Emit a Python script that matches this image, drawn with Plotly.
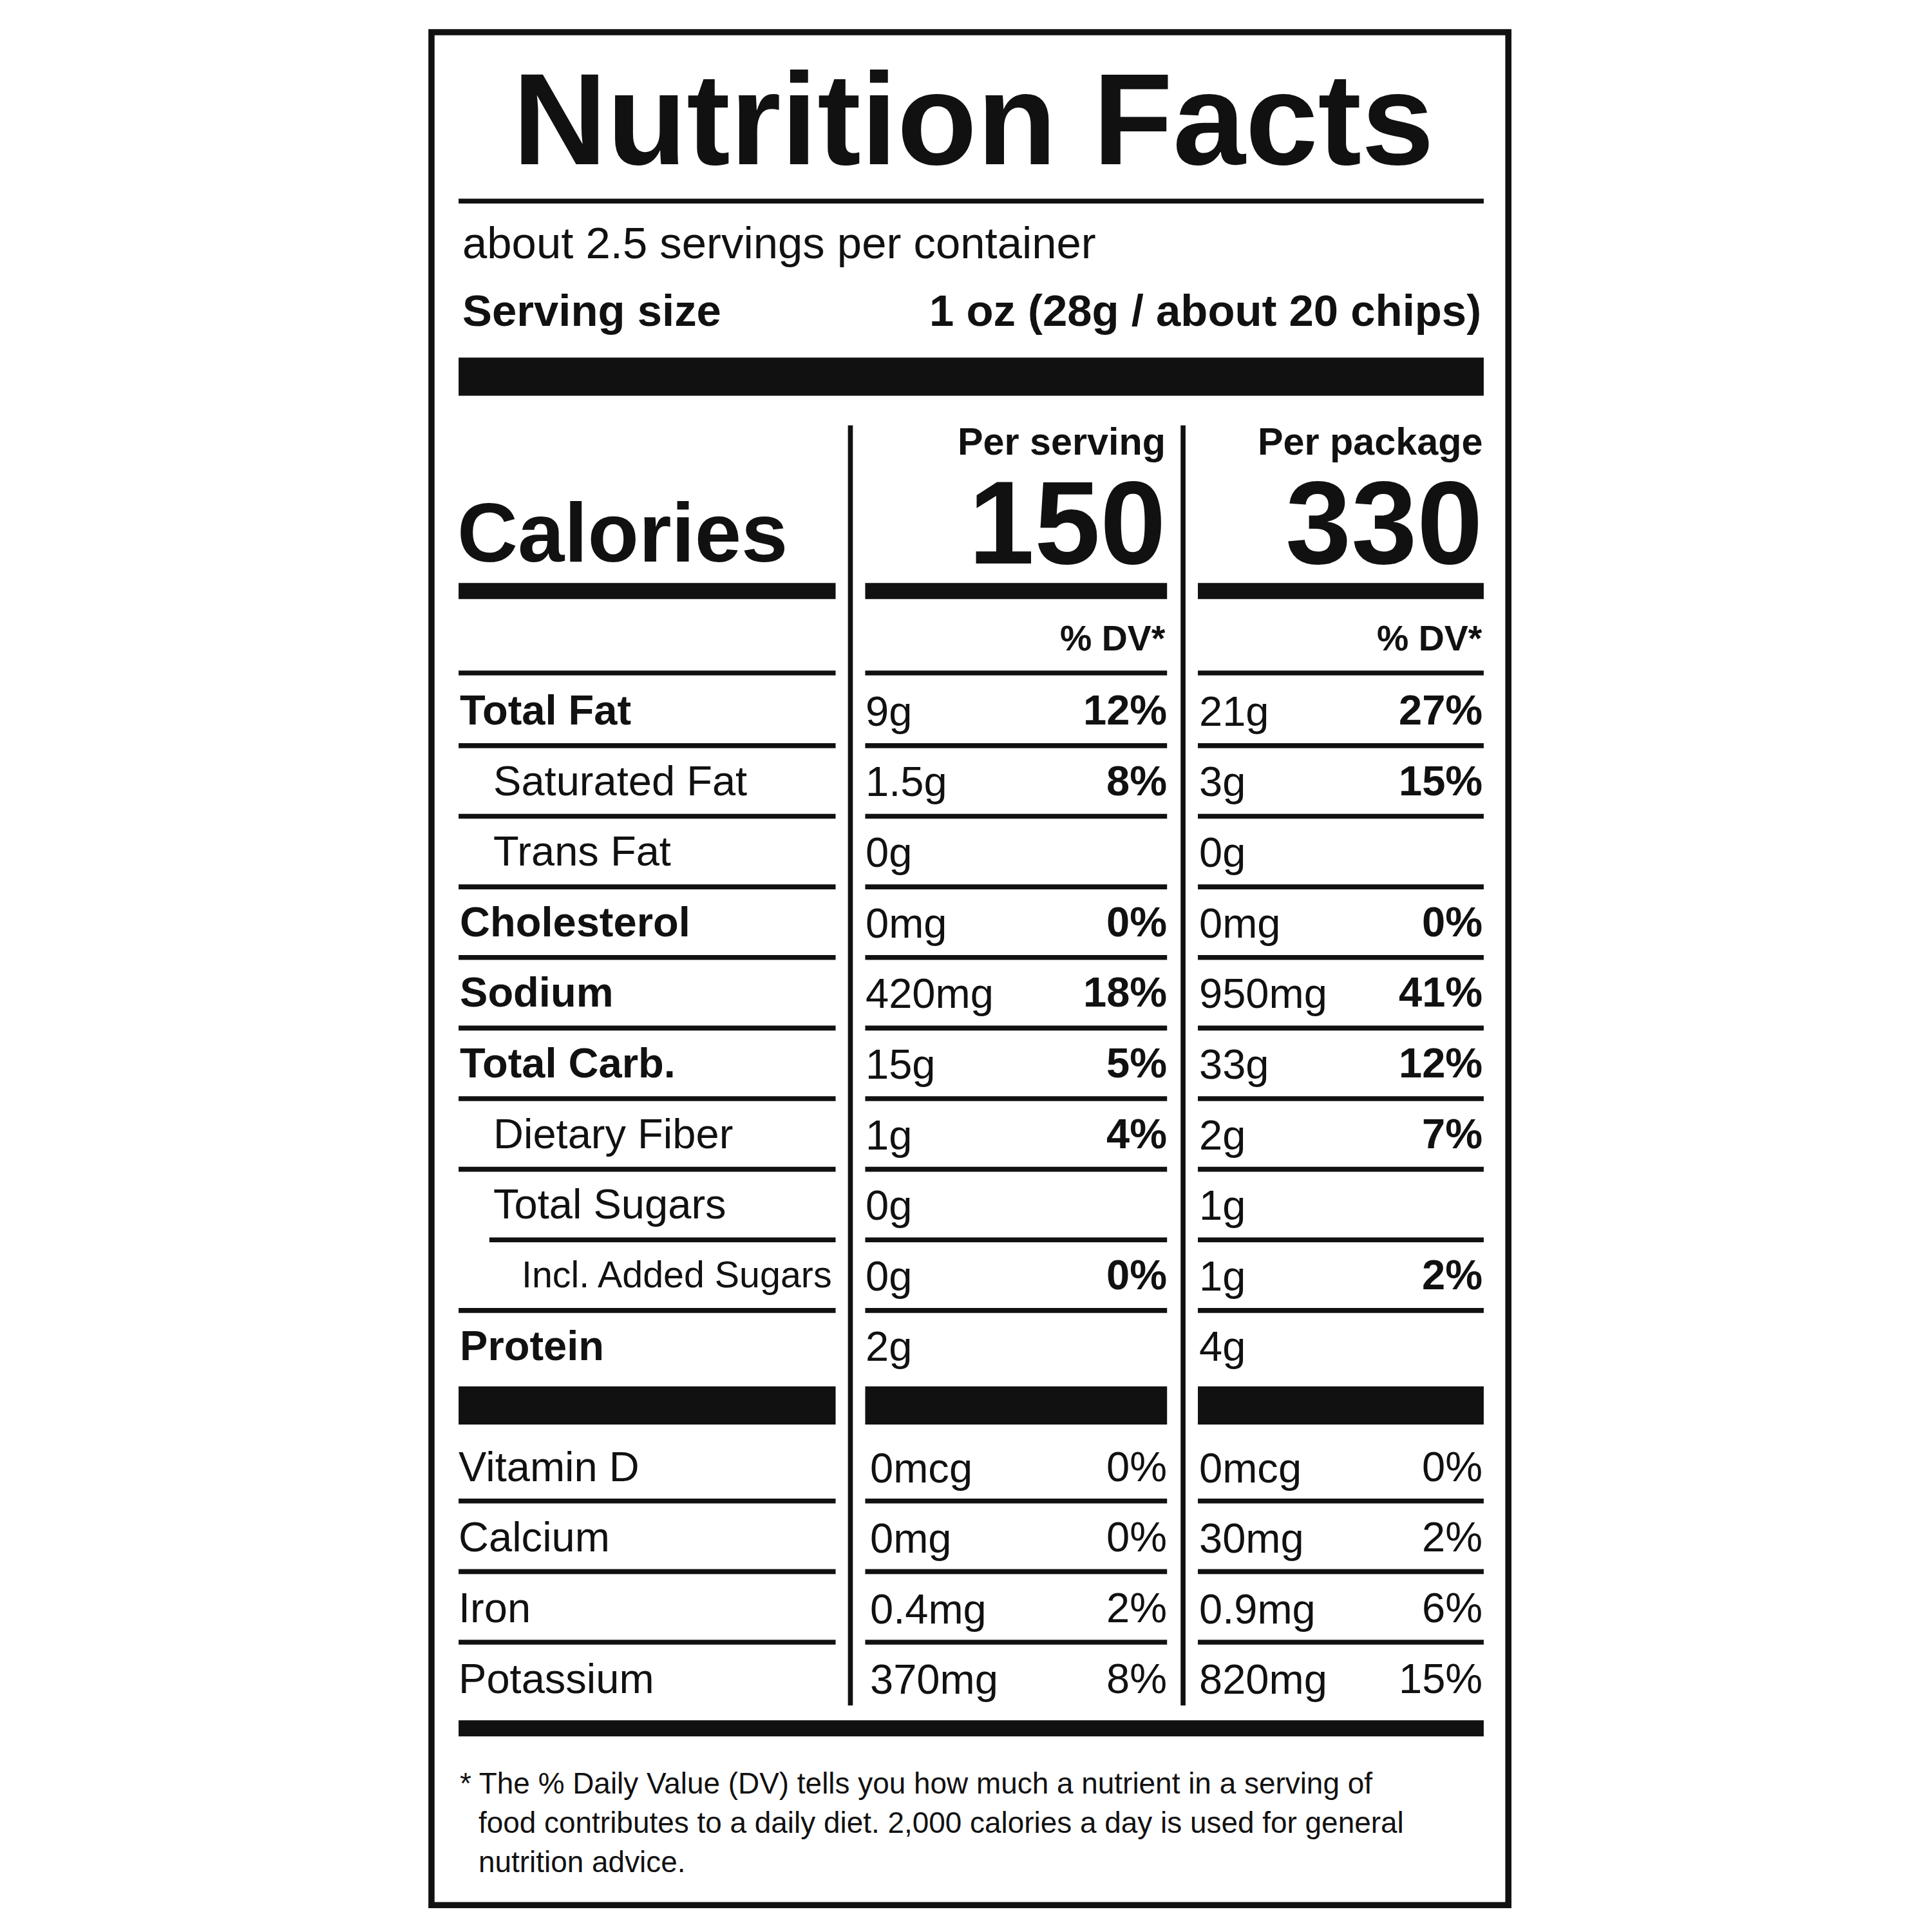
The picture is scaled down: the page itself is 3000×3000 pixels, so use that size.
import plotly.graph_objects as go

# label data
nutrients = ["Total Fat", "Saturated Fat", "Trans Fat", "Cholesterol", "Sodium",
             "Total Carb.", "Dietary Fiber", "Total Sugars", "Incl. Added Sugars", "Protein"]
indent = [0, 1, 1, 0, 0, 0, 1, 1, 2, 0]
serving_amt = ["9g", "1.5g", "0g", "0mg", "420mg", "15g", "1g", "0g", "0g", "2g"]
serving_dv = ["12%", "8%", "", "0%", "18%", "5%", "4%", "", "0%", ""]
package_amt = ["21g", "3g", "0g", "0mg", "950mg", "33g", "2g", "1g", "1g", "4g"]
package_dv = ["27%", "15%", "", "0%", "41%", "12%", "7%", "", "2%", ""]

vitamins = ["Vitamin D", "Calcium", "Iron", "Potassium"]
vit_serving_amt = ["0mcg", "0mg", "0.4mg", "370mg"]
vit_serving_dv = ["0%", "0%", "2%", "8%"]
vit_package_amt = ["0mcg", "30mg", "0.9mg", "820mg"]
vit_package_dv = ["0%", "2%", "6%", "15%"]

servings = "about 2.5 servings per container"
serving_size = "1 oz (28g / about 20 chips)"
calories = [150, 330]
footnote = ["* The % Daily Value (DV) tells you how much a nutrient in a serving of",
            "food contributes to a daily diet. 2,000 calories a day is used for general",
            "nutrition advice."]

S = 3000 / 1568
FONT = "Liberation Sans"
shapes = []
ann = []


def rect(x0, y0, x1, y1):
    shapes.append(dict(type="rect", xref="x", yref="y", x0=x0, x1=x1, y0=y0, y1=y1,
                       fillcolor="#111", line_width=0))


def text(x, y, t, size, anchor="left", bold=False):
    if bold:
        t = "<b>" + t + "</b>"
    ann.append(dict(x=x, y=y, xref="x", yref="y", text=t, showarrow=False,
                    xanchor=anchor, yanchor="middle",
                    font=dict(family=FONT, size=size * S, color="#111")))


# outer border
shapes.append(dict(type="rect", xref="x", yref="y", x0=346, x1=1220, y0=22, y1=1542,
                   line=dict(color="#111", width=5 * S)))

text(786, 92, "Nutrition Facts", 106, "center", True)
rect(368, 157, 1200, 161)
text(370, 193, servings, 36)
text(370, 248, "Serving size", 36, "left", True)
text(1199, 248, serving_size, 36, "right", True)
rect(368, 286, 1200, 317)

# column dividers
rect(684, 341, 688, 1380)
rect(954, 341, 958, 1380)
cols = [(368, 674), (698, 943), (968, 1200)]

text(943, 354, "Per serving", 31, "right", True)
text(1200, 354, "Per package", 31, "right", True)
text(366, 428, "Calories", 68, "left", True)
text(943, 420, str(calories[0]), 96, "right", True)
text(1200, 420, str(calories[1]), 96, "right", True)
for a, b in cols:
    rect(a, 469, b, 482)
text(943, 514, "% DV*", 29, "right", True)
text(1200, 514, "% DV*", 29, "right", True)
for a, b in cols:
    rect(a, 540, b, 544)

step = 57.3
for i, name in enumerate(nutrients):
    y = 572 + i * step
    size = 30 if indent[i] == 2 else 34
    text(368 + [0, 27, 50][indent[i]], y, name, size, "left", indent[i] == 0)
    text(697, y + 1, serving_amt[i], 34)
    text(944, y, serving_dv[i], 34, "right", True)
    text(968, y + 1, package_amt[i], 34)
    text(1200, y, package_dv[i], 34, "right", True)
    if i < len(nutrients) - 1:
        ly = y + 29
        for j, (a, b) in enumerate(cols):
            if j == 0 and indent[i + 1] == 2:
                a = 393
            rect(a, ly - 2, b, ly + 2)

for a, b in cols:
    rect(a, 1121, b, 1152)

for i, name in enumerate(vitamins):
    y = 1186 + i * step
    text(367, y, name, 34)
    text(701, y + 1, vit_serving_amt[i], 34)
    text(944, y, vit_serving_dv[i], 34, "right")
    text(968, y + 1, vit_package_amt[i], 34)
    text(1200, y, vit_package_dv[i], 34, "right")
    if i < len(vitamins) - 1:
        for a, b in cols:
            rect(a, y + 26, b, y + 30)

rect(368, 1392, 1200, 1405)
for i, line in enumerate(footnote):
    text(368 if i == 0 else 383, 1443 + i * 32, line, 24)

fig = go.Figure()
fig.update_layout(width=3000, height=3000, margin=dict(l=0, r=0, t=0, b=0),
                  paper_bgcolor="white", plot_bgcolor="white",
                  shapes=shapes, annotations=ann, showlegend=False,
                  xaxis=dict(range=[0, 1568], visible=False),
                  yaxis=dict(range=[1568, 0], visible=False))
fig.write_html("out.html")
